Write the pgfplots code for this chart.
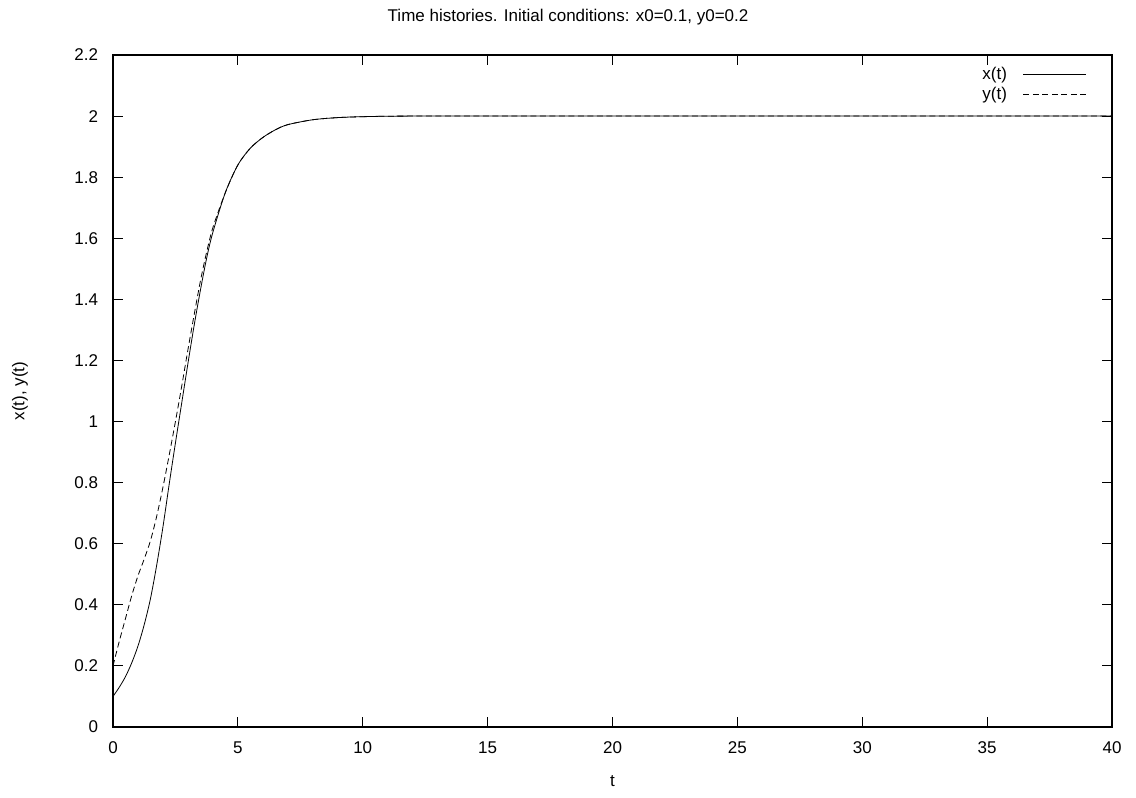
\documentclass[border=0pt]{standalone}
\usepackage{fontspec}
\setmainfont{Liberation Sans}
\usepackage{pgfplots}
\pgfplotsset{compat=1.18}
\begin{document}
\fontsize{17}{20}\selectfont
\begin{tikzpicture}
\begin{axis}[
  name=ax,
  scale only axis,
  width=999pt, height=672pt,
  xmin=0, xmax=40, ymin=0, ymax=2.2,
  xtick={0,5,...,40},
  ytick={0,0.2,...,2.21},
  yticklabel style={/pgf/number format/fixed, /pgf/number format/precision=1, xshift=-9pt},
  xticklabel style={yshift=-9pt},
  /pgf/number format/assume math mode=true,
  tick align=inside,
  major tick length=10pt,
  tick style={line width=1pt, black},
  axis line style={line width=1.2pt},
  title={Time histories. Initial conditions: x0=0.1, y0=0.2},
  title style={at={(axis description cs:0.4555,1)}, anchor=center, yshift=32pt},
  xlabel={t},
  xlabel style={at={(axis description cs:0.5,-0.0804)}, anchor=center},
  ylabel={x(t), y(t)},
  ylabel style={at={(axis description cs:-0.0931,0.5)}, anchor=center},
  legend style={draw=none, fill=none, at={(1,1)}, anchor=north east, xshift=-22pt, yshift=-8pt, row sep=1pt, font=\fontsize{17}{20}\selectfont},
  legend cell align=right,
  legend plot pos=right,
  legend image code/.code={\path (0pt,0pt); \draw[#1] (14pt,0pt) -- (77pt,0pt);},
]
\addplot[black, line width=0.8pt, smooth] coordinates {
(0,0.10) (0.25,0.13) (0.5,0.165) (0.75,0.21) (1.0,0.265) (1.25,0.335) (1.5,0.42) (1.75,0.53) (2.0,0.655) (2.25,0.795) (2.5,0.93) (2.75,1.06) (3.0,1.19) (3.25,1.315) (3.5,1.43) (3.75,1.535) (4.0,1.62) (4.5,1.75) (5.0,1.84) (5.5,1.895) (6.0,1.93) (6.5,1.955) (7.0,1.972) (8.0,1.988) (9.0,1.995) (10,1.998) (12,2.0) (20,2.0) (30,2.0) (40,2.0)
};
\addlegendentry{x(t)}
\addplot[black, line width=0.8pt, dash pattern=on 6pt off 3.5pt, smooth] coordinates {
(0,0.20) (0.25,0.28) (0.5,0.355) (0.75,0.43) (1.0,0.495) (1.25,0.55) (1.5,0.61) (1.75,0.69) (2.0,0.785) (2.25,0.89) (2.5,1.0) (2.75,1.115) (3.0,1.235) (3.25,1.35) (3.5,1.46) (3.75,1.555) (4.0,1.635) (4.5,1.75) (5.0,1.84) (5.5,1.895) (6.0,1.93) (6.5,1.955) (7.0,1.972) (8.0,1.988) (9.0,1.995) (10,1.998) (12,2.0) (20,2.0) (30,2.0) (40,2.0)
};
\addlegendentry{y(t)}
\end{axis}
\path (ax.south west) ++(-113pt,-70pt) coordinate (bl);
\path (ax.north east) ++(24pt,55pt) coordinate (tr);
\path (bl) rectangle (tr);
\end{tikzpicture}
\end{document}
